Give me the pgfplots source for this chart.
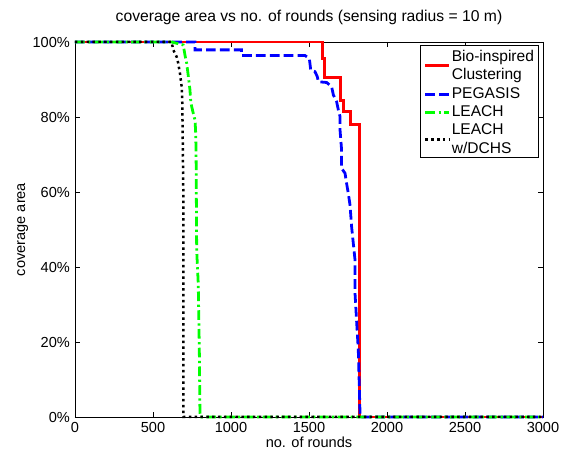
\documentclass[border=0pt]{standalone}
\usepackage{fontspec}
\setmainfont{Liberation Sans}
\usepackage{pgfplots}
\pgfplotsset{compat=1.18}
\begin{document}
\fontsize{10.5}{12.6}\selectfont
\begin{tikzpicture}
\begin{axis}[
  scale only axis, width=336.96pt, height=270pt,
  xmin=0, xmax=3000, ymin=0, ymax=100,
  xtick={0,500,...,3000}, ytick={0,20,...,100},
  yticklabel={\pgfmathprintnumber{\tick}\%},
  /pgf/number format/assume math mode=true,
  /pgf/number format/set thousands separator={},
  scaled x ticks=false,
  tick align=inside, major tick length=3.6pt,
  tick style={black, line width=0.5pt},
  axis line style={line width=0.6pt},
  clip=false,
  title={coverage area vs no. of rounds (sensing radius = 10 m)},
  title style={at={(axis description cs:0.5,1)}, anchor=base, yshift=8.9pt, inner sep=0pt,
    font=\fontsize{11.3}{13.6}\selectfont},
  xlabel={no. of rounds},
  xlabel style={at={(axis description cs:0.5,0)}, anchor=base, yshift=-22pt, inner sep=0pt},
  ylabel={coverage area},
  ylabel style={at={(axis description cs:-0.1068,0.5)}, anchor=base, inner sep=0pt},
  legend style={at={(1,1)}, anchor=north east, xshift=-2.7pt, yshift=-2.2pt,
    draw=black, line width=0.6pt, font=\fontsize{11.2}{13.2}\selectfont,
    inner xsep=2.5pt, inner ysep=0pt, row sep=0pt,
    nodes={inner xsep=1pt, inner ysep=0pt, text depth=},
    cells={anchor=west, align=left}},
]
% Bio-inspired Clustering
\addplot[red, line width=2pt] coordinates {
  (0,100) (1585,100) (1585,95.6) (1598,95.6) (1598,90.6) (1703,90.6)
  (1703,84.3) (1720,84.3) (1720,81.4) (1767,81.4) (1767,77.9) (1825,77.9)
  (1825,0) (3000,0)};
\addlegendentry{\rule{0pt}{11.5pt}Bio-inspired\\Clustering\strut}
% PEGASIS
\addplot[blue, line width=2pt, dash pattern=on 7pt off 3pt] coordinates {
  (0,100) (769,100) (769,97.9) (1068,97.9) (1068,96.4) (1474,96.4)
  (1502,95.6) (1506,94.3) (1511,92.5) (1538,92.1) (1553,90.8) (1560,89.4)
  (1613,89.2) (1645,88.1) (1656,85.9) (1677,84.1) (1688,81.9) (1699,80.1)
  (1699,76.5) (1709,71.2) (1709,66.3) (1731,65) (1741,62.3) (1752,59.6)
  (1763,56.5) (1773,50.8) (1784,46.3) (1795,41.9) (1795,33) (1806,25)
  (1816,17.9) (1822,9) (1827,1) (1830,0) (3000,0)};
\addlegendentry{\strut PEGASIS}
% LEACH
\addplot[green, line width=2pt, dash pattern=on 7pt off 2.5pt on 1.5pt off 2.5pt] coordinates {
  (0,100) (619,100) (694,99.2) (705,96.5) (716,94.3) (727,90.7) (737,87.2)
  (742,84.1) (748,82.8) (758,81) (769,79.2) (773,76.5) (776,71.2)
  (780,44.5) (790,35.6) (797,17.9) (801,1) (805,0) (3000,0)};
\addlegendentry{\strut LEACH}
% LEACH w/DCHS
\addplot[black, line width=1.8pt, dash pattern=on 1.8pt off 2.4pt] coordinates {
  (0,100) (619,100) (630,97.9) (652,96) (662,94.3) (673,91.6) (684,88)
  (687,85.4) (690,76.5) (694,60.5) (695,0) (3000,0)};
\addlegendentry{\strut LEACH\\w/DCHS\rule[-2.9pt]{0pt}{2.9pt}}
\end{axis}
\pgfresetboundingbox
\path (-54pt,-25.2pt) rectangle (356.4pt,300.24pt);
\end{tikzpicture}
\end{document}
